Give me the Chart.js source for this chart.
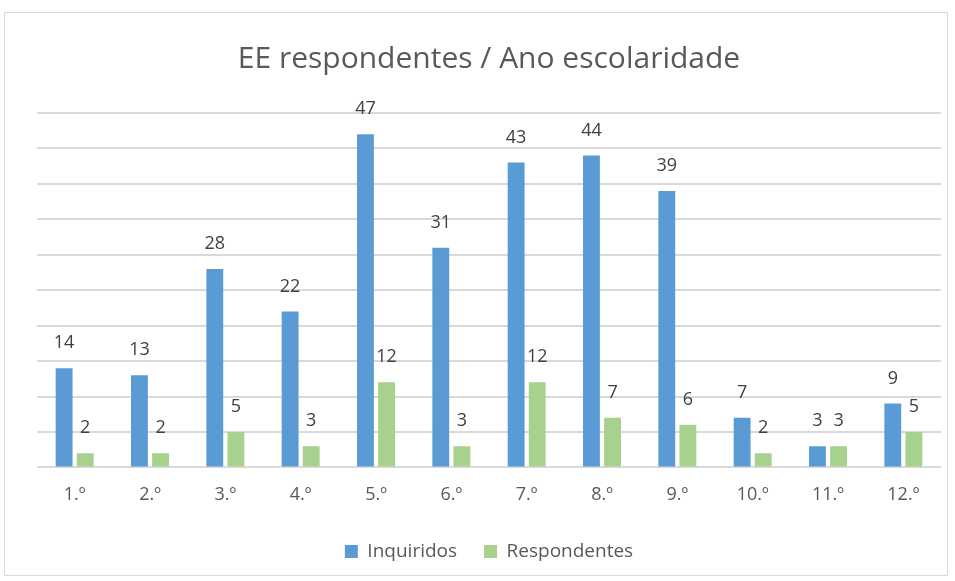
<!DOCTYPE html>
<html><head><meta charset="utf-8">
<script src="https://cdn.jsdelivr.net/npm/chart.js@4/dist/chart.umd.min.js"></script>
<style>
html,body{margin:0;padding:0;background:#fff;}
#wrap{position:absolute;left:4px;top:12px;width:944px;height:564px;border:1px solid #d9d9d9;box-sizing:border-box;}
canvas{position:absolute;left:0;top:0;}
</style></head><body>
<div id="wrap"><canvas id="c" width="944" height="564"></canvas></div>
<script>
const categories = ["1.º","2.º","3.º","4.º","5.º","6.º","7.º","8.º","9.º","10.º","11.º","12.º"];
const inquiridos = [14,13,28,22,47,31,43,44,39,7,3,9];
const respondentes = [2,2,5,3,12,3,12,7,6,2,3,5];
const seriesNames = ["Inquiridos","Respondentes"];
const FONT = "'Open Sans', 'Noto Sans', sans-serif";

const labelPlugin = {
  id:'valueLabels',
  afterDatasetsDraw(chart){
    const ctx = chart.ctx;
    ctx.save();
    ctx.font = "18px " + FONT;
    ctx.fillStyle = "#404040";
    ctx.textAlign = "center";
    ctx.textBaseline = "middle";
    chart.data.datasets.forEach((ds,i)=>{
      chart.getDatasetMeta(i).data.forEach((bar,j)=>{
        ctx.fillText(String(ds.data[j]), bar.x, bar.y - 25);
      });
    });
    ctx.restore();
  }
};

new Chart(document.getElementById('c'),{
  type:'bar',
  data:{
    labels:categories,
    datasets:[
      {label:seriesNames[0],data:inquiridos,backgroundColor:'#5B9BD5',borderColor:'#ffffff',borderWidth:0},
      {label:seriesNames[1],data:respondentes,backgroundColor:'#A9D18E',borderColor:'#ffffff',borderWidth:0}
    ]
  },
  options:{
    responsive:false,
    animation:false,
    layout:{padding:{left:32,right:8,top:0,bottom:6}},
    datasets:{bar:{categoryPercentage:0.56,barPercentage:0.8}},
    plugins:{
      title:{display:true,text:"EE respondentes / Ano escolaridade",color:'#595959',font:{family:FONT,size:30,weight:'normal'},padding:{top:28,bottom:36}},
      legend:{position:'bottom',labels:{color:'#595959',font:{family:FONT,size:19},boxWidth:13,boxHeight:13,padding:27}},
      tooltip:{enabled:false}
    },
    scales:{
      x:{grid:{display:false},border:{display:false},ticks:{color:'#595959',font:{family:FONT,size:18},padding:9}},
      y:{min:0,max:50,ticks:{stepSize:5,display:false},grid:{color:'#d9d9d9',lineWidth:2,drawTicks:false},border:{display:false}}
    }
  },
  plugins:[labelPlugin]
});
</script>
</body></html>
